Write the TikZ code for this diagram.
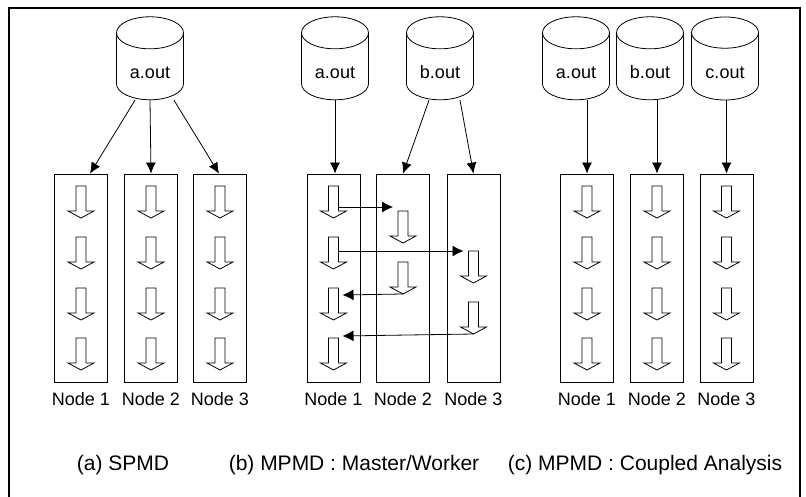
\documentclass[tikz,border=0pt]{standalone}
\usepackage{fontspec}
\setmainfont{Liberation Sans}
\usetikzlibrary{shapes.geometric, positioning, arrows.meta}

\begin{document}
\begin{tikzpicture}[x=1pt, y=-1pt, line width=0.8pt,
    cyl/.style={draw, cylinder, shape border rotate=90, aspect=0.8,
        minimum width=67pt, minimum height=83pt, inner sep=0pt,
        text height=24pt, text depth=0pt,
        font=\fontsize{18}{20}\selectfont},
    procbox/.style={draw, minimum width=53pt, minimum height=208pt, inner sep=0pt},
    lbl/.style={font=\fontsize{18}{20}\selectfont, inner sep=0pt},
    caption/.style={font=\fontsize{21}{24}\selectfont, inner sep=0pt},
    load/.style={-{Latex[length=11pt, width=10pt]}},
    msg/.style={-{Latex[length=11pt, width=11pt]}},
    flowarrow/.pic={
        \draw[fill=white] (-5,0) -- (5,0) -- (5,25) -- (13,25) -- (0,32)
            -- (-13,25) -- (-5,25) -- cycle;
        \coordinate (-top) at (0,0);
        \coordinate (-ne) at (5,0);
        \coordinate (-nw) at (-5,0);
        \coordinate (-tip) at (0,32);
    }]
\useasboundingbox (0,0) rectangle (806,497);
\draw[line width=1.3pt] (9,497) -- (9,8) -- (800,8) -- (800,497);

% (a) SPMD
\node[cyl] (aA) at (150,66.5) {a.out};
\foreach \n/\x in {1/81, 2/151, 3/220} {
    \node[procbox] (a\n) at (\x,278) {};
    \node[lbl, below=10pt of a\n] {Node \n};
    \foreach \s/\t in {1/12, 2/63, 3/114, 4/164}
        \pic (a\n s\s) at (\x,174+\t) {flowarrow};
}
\draw[load] ([xshift=-15pt]aA.south) -- ([xshift=9pt]a1.north);
\draw[load] (aA.south) -- (a2.north);
\draw[load] ([xshift=24pt]aA.south) -- ([xshift=-1pt]a3.north);
\node[caption] (capA) at (123,465) {(a) SPMD};

% (b) MPMD : Master/Worker
\node[cyl] (bA) at (335,66.5) {a.out};
\node[cyl] (bB) at (440,66.5) {b.out};
\foreach \n/\x in {1/333.5, 2/403, 3/473.5} {
    \node[procbox] (b\n) at (\x,278) {};
    \node[lbl, below=10pt of b\n] {Node \n};
}
\foreach \s/\t in {1/12, 2/63, 3/114, 4/164}
    \pic (b1s\s) at (333.5,174+\t) {flowarrow};
\pic (b2s1) at (403,211) {flowarrow};
\pic (b2s2) at (403,262) {flowarrow};
\pic (b3s1) at (473.5,251) {flowarrow};
\pic (b3s2) at (473.5,302) {flowarrow};
\draw[load] (bA.south) -- (bA.south |- b1.north);
\draw[load] ([xshift=-11pt]bB.south) -- (b2.north);
\draw[load] ([xshift=20pt]bB.south) -- (b3.north);
\draw[msg] ([yshift=-21pt]b1s1-ne) -- ([xshift=-10pt,yshift=4pt]b2s1-top);
\draw[msg] ([yshift=-14pt]b1s2-ne) -- ([xshift=-5pt]b3s1-nw);
\draw[msg] (b2s2-tip) -- ([xshift=4pt,yshift=-7pt]b1s3-ne);
\draw[msg] (b3s2-tip) -- ([xshift=4pt,yshift=2pt]b1s4-ne);
\node[caption] (capB) at (354,465) {(b) MPMD : Master/Worker};

% (c) MPMD : Coupled Analysis
\node[cyl] (cA) at (576,66.5) {a.out};
\node[cyl] (cB) at (650,66.5) {b.out};
\node[cyl] (cC) at (725,66.5) {c.out};
\foreach \n/\x in {1/587, 2/657, 3/726.5} {
    \node[procbox] (c\n) at (\x,278) {};
    \node[lbl, below=10pt of c\n] {Node \n};
    \foreach \s/\t in {1/12, 2/63, 3/114, 4/164}
        \pic (c\n s\s) at (\x,174+\t) {flowarrow};
}
\draw[load] (c1.north |- cA.south) -- (c1.north);
\draw[load] (c2.north |- cB.south) -- (c2.north);
\draw[load] (c3.north |- cC.south) -- (c3.north);
\node[caption] (capC) at (645,465) {(c) MPMD : Coupled Analysis};
\end{tikzpicture}
\end{document}
